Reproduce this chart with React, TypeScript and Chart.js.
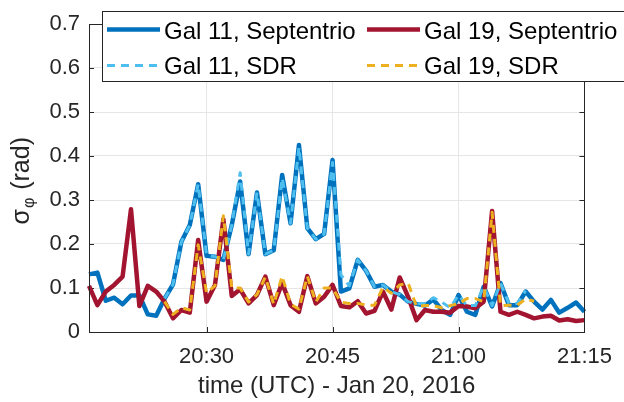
import React, { useEffect, useRef } from "react";
import { Chart, registerables } from "chart.js";

Chart.register(...registerables);

const times = [
  "20:16", "20:17", "20:18", "20:19", "20:20", "20:21", "20:22", "20:23", "20:24", "20:25",
  "20:26", "20:27", "20:28", "20:29", "20:30", "20:31", "20:32", "20:33", "20:34", "20:35",
  "20:36", "20:37", "20:38", "20:39", "20:40", "20:41", "20:42", "20:43", "20:44", "20:45",
  "20:46", "20:47", "20:48", "20:49", "20:50", "20:51", "20:52", "20:53", "20:54", "20:55",
  "20:56", "20:57", "20:58", "20:59", "21:00", "21:01", "21:02", "21:03", "21:04", "21:05",
  "21:06", "21:07", "21:08", "21:09", "21:10", "21:11", "21:12", "21:13", "21:14", "21:15",
];

const xTickLabels = ["20:30", "20:45", "21:00", "21:15"];
const yTicks = [0, 0.1, 0.2, 0.3, 0.4, 0.5, 0.6, 0.7];

const gal11Septentrio = [
  0.131, 0.135, 0.071, 0.078, 0.063, 0.083, 0.083, 0.040, 0.037, 0.076,
  0.108, 0.205, 0.243, 0.336, 0.173, 0.171, 0.164, 0.243, 0.342, 0.177,
  0.317, 0.177, 0.186, 0.357, 0.247, 0.425, 0.236, 0.211, 0.223, 0.391,
  0.092, 0.099, 0.164, 0.139, 0.103, 0.107, 0.092, 0.085, 0.069, 0.064,
  0.060, 0.074, 0.050, 0.039, 0.084, 0.046, 0.039, 0.103, 0.058, 0.111,
  0.061, 0.061, 0.092, 0.069, 0.051, 0.073, 0.044, 0.055, 0.067, 0.046,
];

const gal19Septentrio = [
  0.105, 0.061, 0.092, 0.107, 0.126, 0.279, 0.059, 0.105, 0.092, 0.069,
  0.031, 0.050, 0.044, 0.209, 0.069, 0.107, 0.256, 0.082, 0.097, 0.065,
  0.084, 0.126, 0.061, 0.111, 0.061, 0.046, 0.127, 0.065, 0.080, 0.107,
  0.059, 0.056, 0.070, 0.042, 0.048, 0.092, 0.051, 0.124, 0.080, 0.027,
  0.050, 0.046, 0.046, 0.044, 0.059, 0.058, 0.054, 0.069, 0.275, 0.046,
  0.039, 0.046, 0.039, 0.031, 0.035, 0.037, 0.026, 0.029, 0.025, 0.027,
];

const gal11SDR = [
  null, null, null, null, null, null, null, null, null, 0.076,
  0.108, 0.205, 0.243, 0.336, 0.175, 0.171, 0.164, 0.243, 0.362, 0.177,
  0.317, 0.177, 0.186, 0.350, 0.247, 0.420, 0.236, 0.211, 0.223, 0.385,
  0.130, 0.105, 0.164, 0.139, 0.103, 0.107, 0.092, 0.085, 0.069, 0.064,
  0.065, 0.078, 0.068, 0.055, 0.084, 0.060, 0.060, 0.103, 0.060, 0.111,
  0.065, 0.065, 0.094, null, null, null, null, null, null, null,
];

const gal19SDR = [
  null, null, null, null, null, null, null, null, null, 0.069,
  0.040, 0.055, 0.050, 0.198, 0.089, 0.105, 0.264, 0.100, 0.100, 0.068,
  0.085, 0.125, 0.063, 0.127, 0.063, 0.052, 0.127, 0.068, 0.100, 0.100,
  0.068, 0.065, 0.065, 0.061, 0.061, 0.102, 0.088, 0.107, 0.111, 0.058,
  0.060, 0.060, 0.055, 0.060, 0.064, 0.076, 0.076, 0.069, 0.272, 0.060,
  0.061, 0.061, 0.075, 0.070, null, null, null, null, null, null,
];

const FONT = "'Liberation Sans', Arial, Helvetica, sans-serif";
const AXIS_COLOR = "#262626";

const decorPlugin = {
  id: "decor",
  beforeDatasetsDraw(chart: any) {
    const { ctx, chartArea } = chart;
    const { left, right, top, bottom } = chartArea;
    ctx.save();
    ctx.strokeStyle = AXIS_COLOR;
    ctx.lineWidth = 1;
    const ys = chart.scales.y;
    const xs = chart.scales.x;
    ctx.beginPath();
    ys.ticks.forEach((t: any) => {
      const y = Math.round(ys.getPixelForValue(t.value)) + 0.5;
      ctx.moveTo(left, y);
      ctx.lineTo(left + 5, y);
      ctx.moveTo(right, y);
      ctx.lineTo(right - 5, y);
    });
    xs.ticks.forEach((t: any) => {
      const x = Math.round(xs.getPixelForValue(t.value)) + 0.5;
      ctx.moveTo(x, bottom);
      ctx.lineTo(x, bottom - 5);
      ctx.moveTo(x, top);
      ctx.lineTo(x, top + 5);
    });
    ctx.stroke();
    ctx.restore();
  },
  afterDatasetsDraw(chart: any) {
    const { ctx, chartArea } = chart;
    const { left, right, top, bottom } = chartArea;
    ctx.save();
    ctx.strokeStyle = AXIS_COLOR;
    ctx.lineWidth = 1;
    ctx.strokeRect(Math.round(left) + 0.5, Math.round(top) + 0.5, Math.round(right - left), Math.round(bottom - top));
    ctx.restore();

    // x title
    ctx.save();
    ctx.fillStyle = AXIS_COLOR;
    ctx.font = `24px ${FONT}`;
    ctx.textAlign = "center";
    ctx.textBaseline = "alphabetic";
    ctx.fillText("time (UTC) - Jan 20, 2016", (left + right) / 2, 393);
    ctx.restore();

    // y title with subscript (anchored so that its end sits near y = 137)
    ctx.save();
    ctx.fillStyle = AXIS_COLOR;
    ctx.translate(29, 178);
    ctx.rotate(-Math.PI / 2);
    ctx.textBaseline = "alphabetic";
    ctx.textAlign = "left";
    const mainFont = `25px ${FONT}`;
    const subFont = `16px ${FONT}`;
    ctx.font = mainFont;
    const wSigma = ctx.measureText("\u03c3").width;
    const wRad = ctx.measureText(" (rad)").width;
    ctx.font = subFont;
    const wPhi = ctx.measureText("\u03c6").width;
    const total = wSigma + wPhi + wRad + 2;
    let x0 = 41 - total;
    ctx.font = mainFont;
    ctx.fillText("\u03c3", x0, 0);
    x0 += wSigma + 1;
    ctx.font = subFont;
    ctx.fillText("\u03c6", x0, 5);
    x0 += wPhi + 1;
    ctx.font = mainFont;
    ctx.fillText(" (rad)", x0, 0);
    ctx.restore();

    // legend
    ctx.save();
    ctx.fillStyle = "#ffffff";
    ctx.fillRect(102, 11, 540, 70.5);
    ctx.strokeStyle = AXIS_COLOR;
    ctx.lineWidth = 1;
    ctx.strokeRect(102.5, 11.5, 540, 70);
    const cols = [107, 367];
    const rows = [29.5, 65.5];
    const baselines = [39, 73.5];
    chart.data.datasets.forEach((ds: any, i: number) => {
      const cx = cols[i % 2];
      const r = Math.floor(i / 2);
      ctx.save();
      ctx.strokeStyle = ds.borderColor;
      ctx.lineWidth = ds.borderWidth;
      ctx.setLineDash(ds.borderDash || []);
      ctx.beginPath();
      ctx.moveTo(cx, rows[r]);
      ctx.lineTo(cx + 53, rows[r]);
      ctx.stroke();
      ctx.restore();
      ctx.fillStyle = "#000000";
      ctx.font = `24px ${FONT}`;
      ctx.textAlign = "left";
      ctx.textBaseline = "alphabetic";
      ctx.fillText(ds.label, cx + 57, baselines[r]);
    });
    ctx.restore();
  },
};

export default function App() {
  const canvasRef = useRef<HTMLCanvasElement | null>(null);

  useEffect(() => {
    if (!canvasRef.current) return;
    const chart = new Chart(canvasRef.current, {
      type: "line",
      data: {
        labels: times,
        datasets: [
          {
            label: "Gal 11, Septentrio",
            data: gal11Septentrio,
            borderColor: "#0072BD",
            borderWidth: 4.5,
            order: 4,
          },
          {
            label: "Gal 19, Septentrio",
            data: gal19Septentrio,
            borderColor: "#A2142F",
            borderWidth: 4.5,
            order: 3,
          },
          {
            label: "Gal 11, SDR",
            data: gal11SDR,
            borderColor: "#4DBEEE",
            borderWidth: 3,
            borderDash: [8, 6],
            order: 2,
          },
          {
            label: "Gal 19, SDR",
            data: gal19SDR,
            borderColor: "#EDB120",
            borderWidth: 3,
            borderDash: [8, 6],
            order: 1,
          },
        ] as any,
      },
      options: {
        animation: false,
        responsive: false,
        maintainAspectRatio: false,
        layout: { padding: { left: 0, top: 24, right: 37, bottom: 0 } },
        elements: {
          point: { radius: 0, hoverRadius: 0 },
          line: { tension: 0, borderJoinStyle: "round", borderCapStyle: "butt", fill: false },
        },
        plugins: {
          legend: { display: false },
          tooltip: { enabled: false },
        },
        events: [],
        scales: {
          x: {
            type: "category",
            offset: false,
            afterFit: (s: any) => {
              s.height = 70;
            },
            afterBuildTicks: (s: any) => {
              s.ticks = s.ticks.filter((t: any) => xTickLabels.includes(times[t.value]));
            },
            ticks: {
              autoSkip: false,
              maxRotation: 0,
              color: AXIS_COLOR,
              font: { family: FONT, size: 22 },
              padding: 12,
            },
            grid: { color: "#e6e6e6", lineWidth: 1, drawTicks: false, tickLength: 0 },
            border: { display: false },
          },
          y: {
            type: "linear",
            min: 0,
            max: 0.7,
            afterFit: (s: any) => {
              s.width = 89;
            },
            afterBuildTicks: (s: any) => {
              s.ticks = yTicks.map((v) => ({ value: v }));
            },
            ticks: {
              color: AXIS_COLOR,
              font: { family: FONT, size: 22 },
              padding: 9,
              callback: (v: any) => String(Math.round(Number(v) * 10) / 10),
            },
            grid: { color: "#e6e6e6", lineWidth: 1, drawTicks: false, tickLength: 0 },
            border: { display: false },
          },
        },
      },
      plugins: [decorPlugin],
    });
    return () => chart.destroy();
  }, []);

  return (
    <div style={{ position: "fixed", left: 0, top: 0, width: 624, height: 402, background: "#fff" }}>
      <canvas ref={canvasRef} width={624} height={402} style={{ width: 624, height: 402, display: "block" }} />
    </div>
  );
}
